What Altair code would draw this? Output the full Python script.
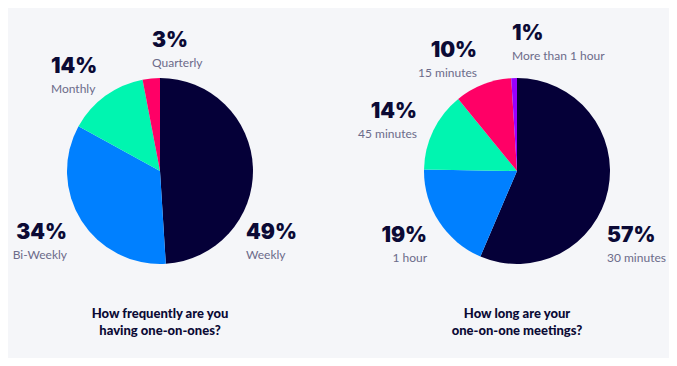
import altair as alt
import pandas as pd

# ---- data ----
freq_labels = ["Weekly", "Bi-Weekly", "Monthly", "Quarterly"]
freq_values = [49, 34, 14, 3]

len_labels = ["30 minutes", "1 hour", "45 minutes", "15 minutes", "More than 1 hour"]
len_values = [57, 19, 14, 10, 1]

freq_title = ["How frequently are you", "having one-on-ones?"]
len_title = ["How long are your", "one-on-one meetings?"]

# ---- styles ----
freq_colors = ["#050038", "#0080FF", "#00F5B0", "#FF0066"]
len_colors = ["#050038", "#0080FF", "#00F5B0", "#FF0066", "#9900FF"]
BG = "#F5F6F9"
NAVY = "#0B0A35"
GREY = "#6C6B8A"

# ---- layout (annotation positions, pixels) ----
pie_radius = 93
freq_center = (152, 163)
len_center = (509, 163)
freq_lbl_x = [238, 59, 43, 144]
freq_lbl_y = [225, 225, 59, 33]
freq_lbl_align = ["left", "right", "left", "left"]
len_lbl_x = [599, 419, 409, 469, 504]
len_lbl_y = [228, 228, 104, 43, 26]
len_lbl_align = ["left", "right", "right", "right", "left"]
label_gap = 22

freq_df = pd.DataFrame({"label": freq_labels, "value": freq_values,
                        "idx": range(len(freq_labels))})
len_df = pd.DataFrame({"label": len_labels, "value": len_values,
                       "idx": range(len(len_labels))})


def pie(df, labels, colors, center):
    return alt.Chart(df).mark_arc(radius=pie_radius, strokeWidth=0).encode(
        theta=alt.Theta("value:Q", stack=True),
        order=alt.Order("idx:Q"),
        color=alt.Color("label:N", scale=alt.Scale(domain=labels, range=colors), legend=None),
        x=alt.value(center[0]),
        y=alt.value(center[1]),
    )


rows = []
for lab, v, x, y, a in zip(freq_labels, freq_values, freq_lbl_x, freq_lbl_y, freq_lbl_align):
    rows.append({"pct": f"{v}%", "name": lab, "x": x, "y": y, "align": a})
for lab, v, x, y, a in zip(len_labels, len_values, len_lbl_x, len_lbl_y, len_lbl_align):
    rows.append({"pct": f"{v}%", "name": lab, "x": x, "y": y, "align": a})
lbl_df = pd.DataFrame(rows)
lbl_df["y2"] = lbl_df["y"] + label_gap

text_layers = []
for a in ["left", "right"]:
    base = alt.Chart(lbl_df).transform_filter(alt.datum.align == a)
    text_layers.append(
        base.mark_text(align=a, baseline="middle", font="Inter", fontWeight=900,
                       fontSize=21, color=NAVY).encode(
            x=alt.X("x:Q", scale=None), y=alt.Y("y:Q", scale=None), text="pct:N")
    )
    text_layers.append(
        base.mark_text(align=a, baseline="middle", font="Lato", fontSize=12,
                       color=GREY).encode(
            x=alt.X("x:Q", scale=None), y=alt.Y("y2:Q", scale=None), text="name:N")
    )

title_df = pd.DataFrame({
    "t": [freq_title, len_title],
    "x": [freq_center[0], len_center[0]],
})
titles = alt.Chart(title_df).mark_text(
    align="center", baseline="middle", font="Lato", fontWeight=900,
    fontSize=13, color=NAVY, lineHeight=17
).encode(x=alt.X("x:Q", scale=None), y=alt.value(306), text="t")

chart = alt.layer(
    pie(freq_df, freq_labels, freq_colors, freq_center),
    pie(len_df, len_labels, len_colors, len_center),
    *text_layers,
    titles,
).resolve_scale(theta="independent", color="independent").properties(
    width=661, height=350, padding=0, autosize="none", background=BG
).configure_view(stroke=None)

chart.save("out.html", embed_options={"renderer": "svg", "actions": False})
